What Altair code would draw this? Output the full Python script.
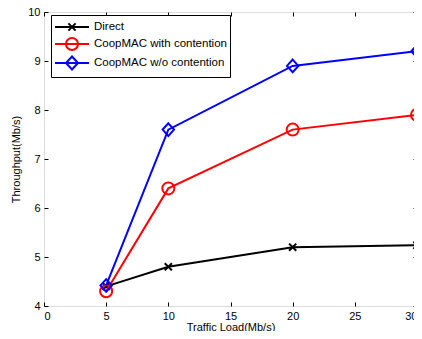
import altair as alt
import pandas as pd

series = ["Direct", "CoopMAC with contention", "CoopMAC w/o contention"]
loads = [5, 10, 20, 30]
direct = [4.4, 4.8, 5.2, 5.24]
coop_with = [4.3, 6.4, 7.6, 7.9]
coop_wo = [4.42, 7.6, 8.9, 9.2]
colors = ["#000000", "#ff0000", "#0000ff"]
x_ticks = [0, 5, 10, 15, 20, 25, 30]
y_ticks = [4, 5, 6, 7, 8, 9, 10]

rows = []
for i, (name, vals) in enumerate(zip(series, [direct, coop_with, coop_wo])):
    for x, y in zip(loads, vals):
        rows.append({"load": x, "tp": y, "series": name, "k": i})
df = pd.DataFrame(rows)

W, H = 373, 294

xs = alt.Scale(domain=[0, 30], nice=False, zero=False)
ys = alt.Scale(domain=[4, 10], nice=False, zero=False)
cs = alt.Scale(domain=series, range=colors)

marker_paths = [
    "M-0.6,-0.6L0.6,0.6M-0.6,0.6L0.6,-0.6",
    "circle",
    "M0,-1.05L0.95,0L0,1.05L-0.95,0Z",
]
# legend glyphs: a line with the marker in its middle (unit radius = 8px)
legend_paths = [
    "M-1,0H3.25M0.675,-0.45L1.575,0.45M0.675,0.45L1.575,-0.45",
    "M-1,0H3.25M1.875,0A0.75,0.75 0 1,1 0.375,0A0.75,0.75 0 1,1 1.875,0",
    "M-1,0H3.25M1.125,-0.81L1.875,0L1.125,0.81L0.375,0Z",
]

FONT = "Liberation Sans"
base = alt.Chart(df)

main_x = alt.Axis(
    orient="bottom", values=x_ticks, ticks=False, domain=False, grid=False,
    title="Traffic Load(Mb/s)", labelPadding=4, titlePadding=0, format="d",
    labelFont=FONT, titleFont=FONT, labelFontSize=11, titleFontSize=11,
    titleFontWeight="normal", labelColor="black", titleColor="black")
main_y = alt.Axis(
    orient="left", values=y_ticks, ticks=False, domain=False, grid=False,
    title="Throughput(Mb/s)", labelPadding=4, titlePadding=6, format="d",
    labelFont=FONT, titleFont=FONT, labelFontSize=11, titleFontSize=11,
    titleFontWeight="normal", labelColor="black", titleColor="black")


def tick_axis(orient, offset, values):
    return alt.Axis(orient=orient, offset=offset, values=values, labels=False,
                    domain=False, grid=False, title=None, tickSize=4,
                    tickColor="black", tickWidth=1)


x_axes = [main_x, tick_axis("top", -H, x_ticks), tick_axis("bottom", -H, x_ticks)]
y_axes = [main_y, tick_axis("right", -W, y_ticks), tick_axis("left", -W, y_ticks)]

layers = []
for i, name in enumerate(series):
    sub = base.transform_filter(alt.datum.series == name)
    line = sub.mark_line(strokeWidth=2, color=colors[i]).encode(
        x=alt.X("load:Q", scale=xs, axis=x_axes[i]),
        y=alt.Y("tp:Q", scale=ys, axis=y_axes[i]),
    )
    pts = sub.mark_point(filled=False, size=144, strokeWidth=2, color=colors[i],
                         shape=marker_paths[i], opacity=1).encode(
        x=alt.X("load:Q", scale=xs, axis=None),
        y=alt.Y("tp:Q", scale=ys, axis=None),
    )
    layers += [line, pts]

leg = alt.Legend(
    title=None, orient="none", legendX=7, legendY=3, symbolSize=256,
    symbolStrokeWidth=2, labelFont=FONT, labelFontSize=11.5, labelColor="black",
    strokeColor="black", fillColor="white", padding=3, labelOffset=22,
    rowPadding=-4, symbolFillColor="transparent",
)

legend_layer = base.mark_point(filled=False, size=256, strokeWidth=2, opacity=0).encode(
    x=alt.X("load:Q", scale=xs, axis=None),
    y=alt.Y("tp:Q", scale=ys, axis=None),
    color=alt.Color("series:N", scale=cs, legend=leg),
    shape=alt.Shape("series:N", scale=alt.Scale(domain=series, range=legend_paths), legend=leg),
)
layers.append(legend_layer)

chart = alt.layer(*layers).resolve_axis(x="independent", y="independent").properties(
    width=W, height=H, autosize="none",
    padding={"left": 36, "top": 4, "right": -3, "bottom": 25},
).configure_view(stroke="black", strokeWidth=1.5).configure(background="white")

chart.save("out.html", embed_options={"renderer": "svg", "actions": False})
